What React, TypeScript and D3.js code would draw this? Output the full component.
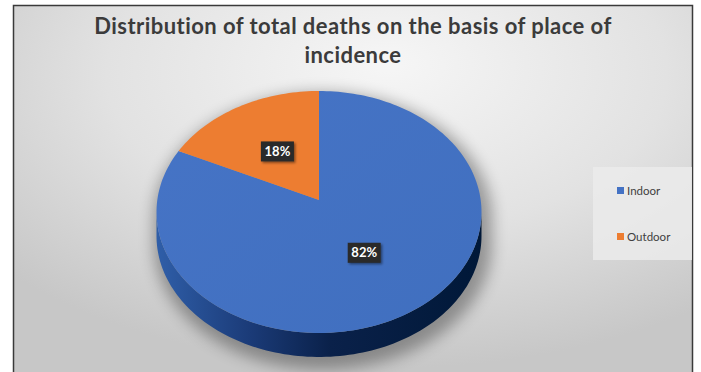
import React from 'react';
import * as d3 from 'd3';

const categories = ['Indoor', 'Outdoor'];
const values = [82, 18];
const valueLabels = ['82%', '18%'];
const colors = ['#4472C4', '#ED7D31'];
const titleLines = ['Distribution of total deaths on the basis of place of', 'incidence'];

const W = 701;
const H = 372;

// perspective disk: centre of the pie on screen, horizontal/vertical scale, depth factor
const cx = 319;
const cy = 200;
const kx = 161.7;
const ky = 119.8;
const persp = 0.099;
const depth = 24;

function project(theta: number, r: number, dy = 0): [number, number] {
  const a = Math.sin(theta) * r;
  const b = Math.cos(theta) * r;
  const s = 1 + persp * b;
  return [cx + (kx * a) / s, cy - (ky * b) / s + dy];
}

function arcPoints(t0: number, t1: number, dy = 0): [number, number][] {
  const n = Math.max(2, Math.ceil((Math.abs(t1 - t0) / (2 * Math.PI)) * 240));
  const pts: [number, number][] = [];
  for (let i = 0; i <= n; i++) pts.push(project(t0 + ((t1 - t0) * i) / n, 1, dy));
  return pts;
}

const line = d3.line<[number, number]>();

export default function App() {
  const pie = d3.pie<number>().sort(null).startAngle(0).endAngle(2 * Math.PI);
  const arcs = pie(values);

  // silhouette edges (leftmost / rightmost points of the projected rim)
  const tR = Math.PI / 2 + Math.asin(persp);
  const tL = (3 * Math.PI) / 2 - Math.asin(persp);

  const topFaces = arcs.map((d) => {
    const pts = [project(0, 0), ...arcPoints(d.startAngle, d.endAngle)];
    return line(pts) + 'Z';
  });

  const sides = arcs
    .map((d, i) => {
      const s = Math.max(d.startAngle, tR);
      const e = Math.min(d.endAngle, tL);
      if (e <= s) return null;
      const upper = arcPoints(s, e);
      const lower = arcPoints(e, s, depth);
      return { i, path: line([...upper, ...lower]) + 'Z' };
    })
    .filter(Boolean) as { i: number; path: string }[];

  const silhouette =
    line([...arcPoints(tL, tR + 2 * Math.PI), ...arcPoints(tR, tL, depth)]) + 'Z';

  const labelPos = arcs.map((d) => project((d.startAngle + d.endAngle) / 2, 0.5));

  const xGrad = d3.scaleLinear().domain([cx - kx, cx + kx]).range([0, 1]);

  return (
    <svg
      width={W}
      height={H}
      style={{ position: 'absolute', left: 0, top: 0 }}
      fontFamily="Lato, 'Open Sans', sans-serif"
    >
      <defs>
        <radialGradient id="bg" cx="0.55" cy="0.2" r="0.75" fx="0.55" fy="0.15">
          <stop offset="0" stopColor="#f6f6f6" />
          <stop offset="0.55" stopColor="#e2e2e2" />
          <stop offset="1" stopColor="#c7c7c7" />
        </radialGradient>
        <linearGradient id="side0" gradientUnits="userSpaceOnUse" x1={cx - kx} x2={cx + kx} y1={0} y2={0}>
          <stop offset="0" stopColor="#2f5ea8" />
          <stop offset={xGrad(250)} stopColor="#1b3b78" />
          <stop offset={xGrad(330)} stopColor="#0a214a" />
          <stop offset="1" stopColor="#001838" />
        </linearGradient>
        <linearGradient id="side1" gradientUnits="userSpaceOnUse" x1={cx - kx} x2={cx + kx} y1={0} y2={0}>
          <stop offset="0" stopColor="#c4621f" />
          <stop offset="1" stopColor="#5a2a08" />
        </linearGradient>
        <linearGradient id="top0" x1="0" y1="0" x2="1" y2="1">
          <stop offset="0" stopColor="#4674c6" />
          <stop offset="1" stopColor="#406fbf" />
        </linearGradient>
        <filter id="pieShadow" x="-20%" y="-20%" width="140%" height="140%">
          <feGaussianBlur stdDeviation="7" />
        </filter>
        <filter id="boxShadow" x="-30%" y="-30%" width="160%" height="160%">
          <feDropShadow dx="1.5" dy="1.5" stdDeviation="1.2" floodColor="#000" floodOpacity="0.45" />
        </filter>
      </defs>

      <rect x={0} y={0} width={W} height={H} fill="#ffffff" />
      <rect x={13.5} y={5.5} width={679} height={H + 10} fill="url(#bg)" stroke="#3a3a3a" strokeWidth={1.5} />

      {titleLines.map((t, i) => (
        <text
          key={i}
          x={353}
          y={34 + i * 29}
          textAnchor="middle"
          fontSize={22}
          fontWeight={700}
          letterSpacing={0.45}
          fill="#3b3b3b"
        >
          {t}
        </text>
      ))}

      {/* soft shadow under the pie */}
      <path
        d={silhouette}
        fill="#000"
        opacity={0.33}
        filter="url(#pieShadow)"
        transform={`translate(${cx + 4},${cy + 6}) scale(1.04) translate(${-cx},${-cy})`}
      />

      {sides.map((s) => (
        <path key={'s' + s.i} d={s.path} fill={`url(#side${s.i})`} />
      ))}

      {topFaces.map((d, i) => (
        <path key={'t' + i} d={d} fill={i === 0 ? 'url(#top0)' : colors[i]} />
      ))}

      {labelPos.map(([x, y], i) => (
        <g key={'l' + i}>
          <rect x={x - 16.5} y={y - 10} width={33} height={20} fill="#2a2a2a" filter="url(#boxShadow)" />
          <text x={x} y={y + 4.5} textAnchor="middle" fontSize={13} fontWeight={700} fill="#ffffff">
            {valueLabels[i]}
          </text>
        </g>
      ))}

      <rect x={593} y={167} width={99} height={93} fill="#ebebeb" opacity={0.85} />
      {categories.map((c, i) => (
        <g key={'lg' + i}>
          <rect x={617} y={187 + i * 46} width={7} height={7} fill={colors[i]} />
          <text x={627} y={195 + i * 46} fontSize={11.5} fill="#404040">
            {c}
          </text>
        </g>
      ))}
    </svg>
  );
}
